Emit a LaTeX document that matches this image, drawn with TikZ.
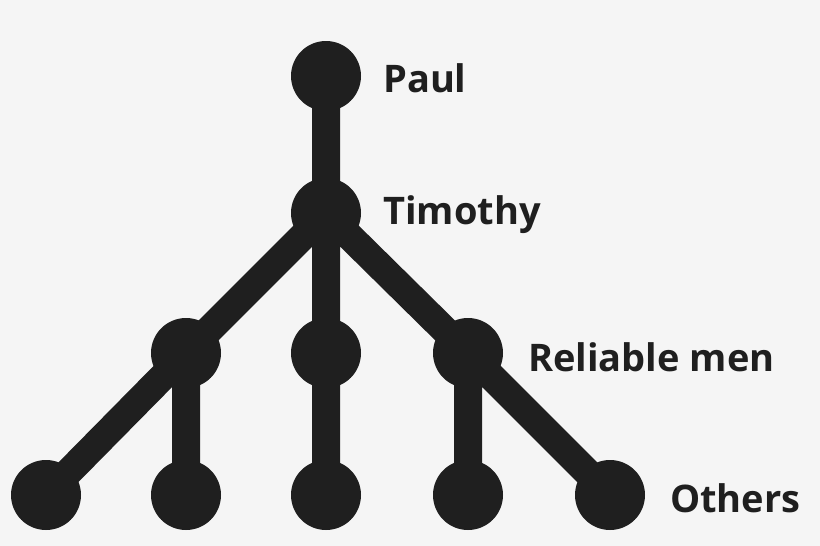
\documentclass[tikz,border=0pt]{standalone}
\usepackage{fontspec}
\setmainfont{Open Sans}
\begin{document}
\begin{tikzpicture}[x=1pt,y=-1pt,
  dot/.style={circle,fill=black!88,minimum size=70pt,inner sep=0pt},
  edge/.style={line width=28pt,draw=black!88},
  lbl/.style={anchor=west,font=\fontsize{38}{40}\selectfont\bfseries,text=black!88,inner sep=0pt}]
\fill[black!4] (0,0) rectangle (820,546);
\useasboundingbox (0,0) rectangle (820,546);
\node[dot] (p) at (326,76) {};
\node[dot] (t) at (326,213) {};
\node[dot] (m1) at (186,353) {};
\node[dot] (m2) at (326,353) {};
\node[dot] (m3) at (468,353) {};
\node[dot] (b1) at (46,495) {};
\node[dot] (b2) at (186,495) {};
\node[dot] (b3) at (326,495) {};
\node[dot] (b4) at (468,495) {};
\node[dot] (b5) at (610,495) {};
\begin{scope}[on background layer/.style={}]
\end{scope}
\path[edge] (p.center) -- (t.center) (t.center) -- (m1.center) (t.center) -- (m2.center) (t.center) -- (m3.center)
 (m1.center) -- (b1.center) (m1.center) -- (b2.center) (m2.center) -- (b3.center) (m3.center) -- (b4.center) (m3.center) -- (b5.center);
\node[lbl] (lp) at (383,78) {Paul};
\node[lbl] (lt) at (383,215) {Timothy};
\node[lbl] (lm) at (528,357) {Reliable men};
\node[lbl] (lo) at (670,498) {Others};
\end{tikzpicture}
\end{document}
